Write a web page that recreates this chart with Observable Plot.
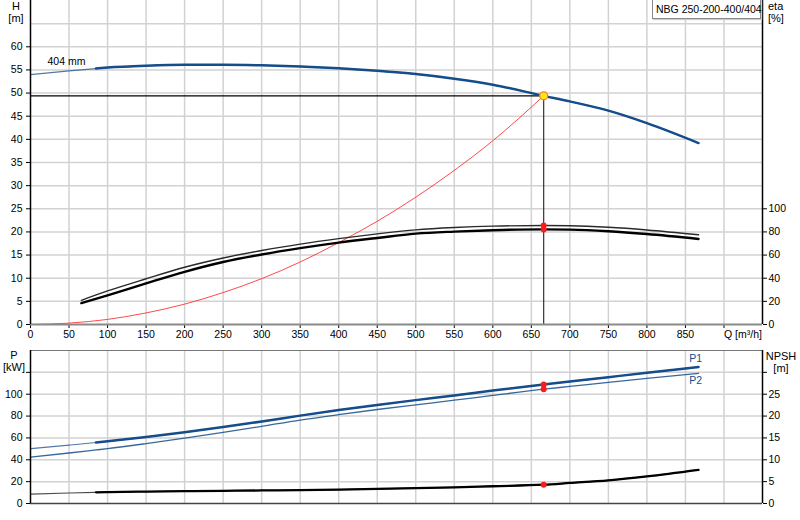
<!DOCTYPE html>
<html>
<head>
<meta charset="utf-8">
<script src="https://cdn.jsdelivr.net/npm/d3@7"></script>
<script src="https://cdn.jsdelivr.net/npm/@observablehq/plot@0.6"></script>
<style>
  html, body { margin: 0; padding: 0; background: #fff; }
  #wrap { position: relative; width: 800px; height: 520px; overflow: hidden;
          font-family: "Liberation Sans", Arial, sans-serif; font-size: 11px; color: #000; }
  #wrap svg { display: block; }
  .lbl { position: absolute; line-height: 12px; white-space: nowrap; }
  #box { position: absolute; left: 652px; top: -1px; width: 104px; height: 18px; padding-left: 3px;
         border: 1px solid #8a8a8a; background: #fff; line-height: 18px; font-size: 10.5px;
         box-shadow: 1px 1px 1px #ccc; white-space: nowrap; }
</style>
</head>
<body>
<div id="wrap"></div>
<script>
// ---- data ----
const Q    = [0, 50, 85, 100, 150, 200, 250, 300, 350, 400, 450, 500, 550, 600, 666, 700, 750, 800, 867];
const H    = [54.0, 54.8, 55.3, 55.5, 55.9, 56.1, 56.1, 56.0, 55.75, 55.35, 54.8, 54.1, 53.1, 51.8, 49.4, 48.2, 46.2, 43.5, 39.2];
const P1   = [50.2, 53.4, 55.8, 56.9, 60.8, 65.2, 70.0, 75.0, 80.4, 85.5, 90.2, 94.6, 98.9, 103.4, 108.9, 111.6, 115.6, 119.6, 125.0];
const P2   = [42.5, 46.2, 49.0, 50.2, 54.8, 59.8, 65.0, 70.6, 76.3, 81.3, 86.0, 90.3, 94.5, 98.9, 104.6, 107.1, 110.9, 114.5, 119.0];
const NPSH = [2.13, 2.4, 2.55, 2.6, 2.72, 2.82, 2.9, 2.98, 3.05, 3.18, 3.33, 3.5, 3.7, 3.95, 4.3, 4.7, 5.3, 6.2, 7.7];

const Q_ETA = [66, 100, 150, 200, 250, 300, 350, 400, 450, 500, 550, 600, 666, 700, 750, 800, 867];
const ETA1  = [20.9, 29.0, 39.5, 49.5, 57.5, 64.0, 69.5, 74.2, 78.3, 81.8, 83.8, 85.0, 85.5, 85.3, 84.0, 81.7, 77.5];
const ETA2  = [18.5, 25.2, 35.5, 45.5, 54.0, 60.5, 66.0, 70.8, 74.8, 78.5, 80.3, 81.5, 82.2, 82.0, 80.6, 78.2, 73.9];

const Q_SYS = [0, 50, 100, 150, 200, 250, 300, 350, 400, 450, 500, 550, 600, 666];
const H_SYS = [0, 0.3, 1.1, 2.5, 4.4, 6.9, 9.9, 13.5, 17.7, 22.3, 27.5, 33.3, 39.7, 49.4];

const DUTY_Q = 666;
const DUTY_H = 49.4;
const THICK_FROM = 85;

const X_TICKS = d3.range(0, 901, 50);
const H_TICKS = d3.range(0, 61, 5);
const ETA_TICKS = [0, 20, 40, 60, 80, 100];
const P_TICKS = [0, 20, 40, 60, 80, 100, 120];
const NPSH_TICKS = [0, 5, 10, 15, 20, 25, 30];

const TITLE = "NBG 250-200-400/404";

// ---- tables ----
const main = Q.map((q, i) => ({q, h: H[i], p1: P1[i], p2: P2[i], npsh: NPSH[i]}));
const mainThick = main.filter(d => d.q >= THICK_FROM);
const eta = Q_ETA.map((q, i) => ({q, e1: ETA1[i], e2: ETA2[i]}));
const sys = Q_SYS.map((q, i) => ({q, h: H_SYS[i]}));
const duty = main.find(d => d.q === DUTY_Q);
const dutyEta = eta.find(d => d.q === DUTY_Q);

const BLUE = "#154d8b";
const GRID = {stroke: "#d2d2d2", strokeOpacity: 1, strokeWidth: 1.5};
const FONT = {fontFamily: "'Liberation Sans', Arial, sans-serif", fontSize: "10.5px", color: "#000", background: "transparent", overflow: "visible"};
const ETA_K = 4;   // eta axis: 100 % ↔ 25 m
const NPSH_K = 4;  // NPSH axis: 30 m ↔ 120 kW

const topPlot = Plot.plot({
  width: 800, height: 345,
  marginLeft: 30, marginRight: 38, marginTop: 0, marginBottom: 21,
  x: {domain: [0, 950]},
  y: {domain: [0, 70]},
  style: FONT,
  marks: [
    Plot.gridX(d3.range(50, 901, 50), GRID),
    Plot.gridY(d3.range(5, 66, 5), GRID),
    Plot.axisX(X_TICKS, {tickSize: 4, tickPadding: 2, label: null, tickFormat: d => d === 900 ? "" : d}),
    Plot.text(["Q [m³/h]"], {x: 900, y: 0, text: d => d, dy: 10, textAnchor: "start"}),
    Plot.axisY(H_TICKS, {anchor: "left", tickSize: 4, tickPadding: 4, label: null}),
    Plot.axisY(ETA_TICKS.map(e => e / ETA_K), {anchor: "right", tickSize: 4, tickPadding: 2, label: null, tickFormat: d => d * ETA_K}),
    // system curve
    Plot.line(sys, {x: "q", y: "h", stroke: "#ff2a2a", strokeWidth: 1, strokeOpacity: 0.85, curve: "monotone-x"}),
    // duty point lines
    Plot.ruleY([DUTY_H], {x1: 0, x2: DUTY_Q, stroke: "#000", strokeWidth: 1.2}),
    Plot.ruleX([DUTY_Q], {y1: 0, y2: DUTY_H, stroke: "#333", strokeWidth: 1.2}),
    // efficiency curves
    Plot.line(eta, {x: "q", y: d => d.e1 / ETA_K, stroke: "#2a2a2a", strokeWidth: 1.4, curve: "monotone-x"}),
    Plot.line(eta, {x: "q", y: d => d.e2 / ETA_K, stroke: "#000", strokeWidth: 2.4, curve: "monotone-x"}),
    // head curve
    Plot.line(main, {x: "q", y: "h", stroke: BLUE, strokeWidth: 1.2, strokeOpacity: 0.75, curve: "monotone-x"}),
    Plot.line(mainThick, {x: "q", y: "h", stroke: BLUE, strokeWidth: 2.5, curve: "monotone-x"}),
    Plot.text(["404 mm"], {x: 22, y: 56.8, text: d => d, textAnchor: "start"}),
    // axes lines
    Plot.ruleY([0], {stroke: "#8a8a8a", strokeWidth: 2}),
    Plot.ruleX([0], {stroke: "#000", strokeWidth: 1.5}),
    Plot.ruleX([950], {stroke: "#000", strokeWidth: 1.5}),
    // duty dots
    Plot.dot([dutyEta], {x: "q", y: d => d.e1 / ETA_K, r: 3, fill: "#ff1a1a", stroke: "none"}),
    Plot.dot([dutyEta], {x: "q", y: d => d.e2 / ETA_K, r: 3, fill: "#ff1a1a", stroke: "none"}),
    Plot.dot([{q: DUTY_Q, h: DUTY_H}], {x: "q", y: "h", r: 4, fill: "#ffe81a", stroke: "#ff7a1a", strokeWidth: 1.2})
  ]
});

const botPlot = Plot.plot({
  width: 800, height: 175,
  marginLeft: 30, marginRight: 38, marginTop: 5, marginBottom: 17,
  x: {domain: [0, 950], axis: null},
  y: {domain: [0, 140]},
  style: FONT,
  marks: [
    Plot.gridX(d3.range(50, 901, 50), GRID),
    Plot.gridY(d3.range(20, 121, 20), GRID),
    Plot.axisY(P_TICKS, {anchor: "left", tickSize: 4, tickPadding: 4, label: null, tickFormat: d => d === 120 ? "" : d}),
    Plot.axisY(NPSH_TICKS.map(n => n * NPSH_K), {anchor: "right", tickSize: 4, tickPadding: 2, label: null, tickFormat: d => d === 120 ? "" : d / NPSH_K}),
    Plot.ruleY([140], {stroke: "#777", strokeWidth: 1}),
    // power curves
    Plot.line(main, {x: "q", y: "p2", stroke: BLUE, strokeWidth: 1.3, strokeOpacity: 0.85, curve: "monotone-x"}),
    Plot.line(main, {x: "q", y: "p1", stroke: BLUE, strokeWidth: 1.2, strokeOpacity: 0.75, curve: "monotone-x"}),
    Plot.line(mainThick, {x: "q", y: "p1", stroke: BLUE, strokeWidth: 2.5, curve: "monotone-x"}),
    Plot.text(["P1"], {x: 855, y: 132.5, text: d => d, textAnchor: "start", fill: BLUE}),
    Plot.text(["P2"], {x: 855, y: 112.5, text: d => d, textAnchor: "start", fill: BLUE}),
    // NPSH
    Plot.line(main, {x: "q", y: d => d.npsh * NPSH_K, stroke: "#000", strokeWidth: 1.2, strokeOpacity: 0.7, curve: "monotone-x"}),
    Plot.line(mainThick, {x: "q", y: d => d.npsh * NPSH_K, stroke: "#000", strokeWidth: 2.3, curve: "monotone-x"}),
    // axes lines
    Plot.ruleY([0], {stroke: "#444", strokeWidth: 1.5}),
    Plot.ruleX([0], {stroke: "#000", strokeWidth: 1.5}),
    Plot.ruleX([950], {stroke: "#000", strokeWidth: 1.5}),
    // duty dots
    Plot.dot([duty], {x: "q", y: "p1", r: 3, fill: "#ff1a1a", stroke: "none"}),
    Plot.dot([duty], {x: "q", y: "p2", r: 3, fill: "#ff1a1a", stroke: "none"}),
    Plot.dot([duty], {x: "q", y: d => d.npsh * NPSH_K, r: 3, fill: "#ff1a1a", stroke: "none"})
  ]
});

const wrap = document.getElementById("wrap");
wrap.appendChild(topPlot);
wrap.appendChild(botPlot);

function label(text, left, top, width, align) {
  const el = document.createElement("div");
  el.className = "lbl";
  el.textContent = text;
  el.style.left = left + "px";
  el.style.top = top + "px";
  el.style.width = width + "px";
  el.style.textAlign = align || "center";
  wrap.appendChild(el);
}
label("H", 4, 0, 24);
label("[m]", 4, 12, 24);
label("eta", 768, 0, 30, "left");
label("[%]", 768, 12, 30, "left");
label("P", 2, 349, 24);
label("[kW]", 2, 361, 24);
label("NPSH", 764, 350, 34);
label("[m]", 764, 362, 34);

const box = document.createElement("div");
box.id = "box";
box.textContent = TITLE;
wrap.appendChild(box);
</script>
</body>
</html>
